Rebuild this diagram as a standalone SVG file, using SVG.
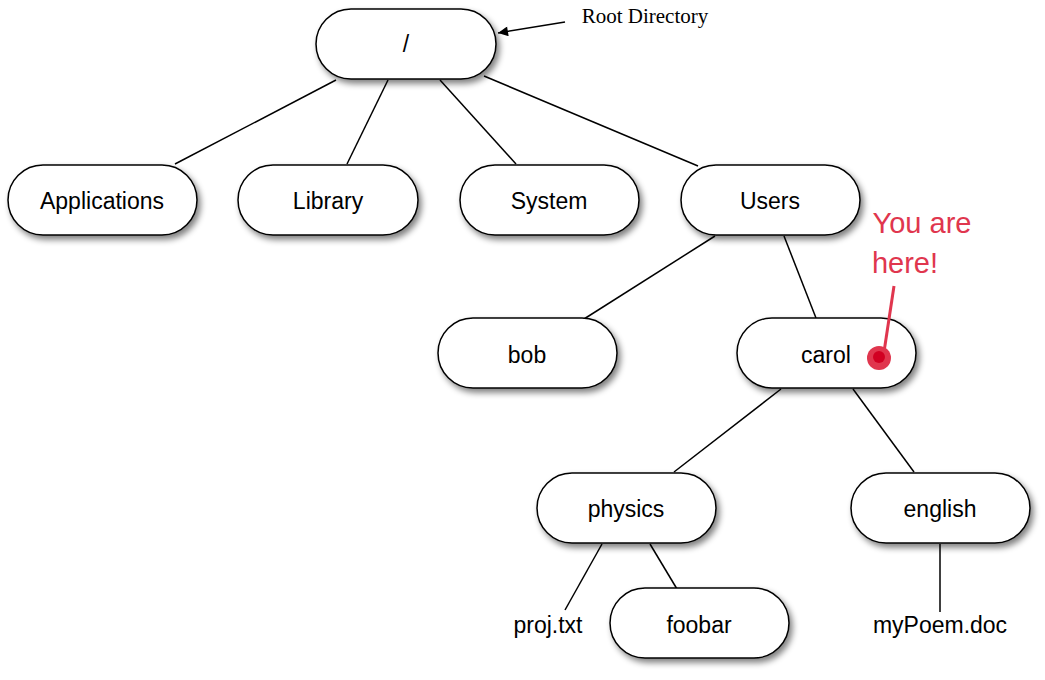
<svg xmlns="http://www.w3.org/2000/svg" width="1045" height="680" viewBox="0 0 1045 680">
<defs>
<filter id="sh" x="-20%" y="-20%" width="150%" height="160%"><feGaussianBlur in="SourceAlpha" stdDeviation="3"/><feOffset dx="3" dy="4"/><feComponentTransfer><feFuncA type="linear" slope="0.5"/></feComponentTransfer><feMerge><feMergeNode/><feMergeNode in="SourceGraphic"/></feMerge></filter>
<marker id="ar" viewBox="0 0 10 10" refX="10" refY="5" markerWidth="12" markerHeight="10" markerUnits="userSpaceOnUse" orient="auto"><path d="M0,0 L10,5 L0,10 z" fill="#000"/></marker>
</defs>
<style>
.n rect{fill:#fff;stroke:#000;stroke-width:1.5;filter:url(#sh)}
text{font-family:"Liberation Sans",Arial,sans-serif;font-size:23px;text-anchor:middle;fill:#000}
.c line{stroke:#000;stroke-width:1.5}
</style>
<rect width="1045" height="680" fill="#fff"/>
<g class="c">
<line x1="336" y1="80" x2="175" y2="164"/>
<line x1="388" y1="80" x2="347" y2="164"/>
<line x1="440" y1="80" x2="516" y2="164"/>
<line x1="484" y1="76" x2="698" y2="166"/>
<line x1="715" y1="236" x2="584" y2="319"/>
<line x1="784" y1="236" x2="816" y2="318"/>
<line x1="781" y1="389" x2="674" y2="472"/>
<line x1="853" y1="389" x2="914" y2="472"/>
<line x1="602" y1="544" x2="565" y2="610"/>
<line x1="650" y1="544" x2="677" y2="589"/>
<line x1="940" y1="544" x2="940" y2="612"/>
<line x1="565" y1="22" x2="498" y2="33" marker-end="url(#ar)"/>
</g>
<g id="root" class="n"><rect x="316" y="9" width="180" height="70" rx="35"/><text x="406" y="52">/</text></g>
<g id="applications" class="n"><rect x="8" y="165" width="189" height="70" rx="35"/><text x="102" y="209">Applications</text></g>
<g id="library" class="n"><rect x="238" y="165" width="180" height="70" rx="35"/><text x="328" y="209">Library</text></g>
<g id="system" class="n"><rect x="460" y="165" width="179" height="70" rx="35"/><text x="549" y="209">System</text></g>
<g id="users" class="n"><rect x="681" y="165" width="179" height="70" rx="35"/><text x="770" y="209">Users</text></g>
<g id="bob" class="n"><rect x="438" y="318" width="179" height="70" rx="35"/><text x="527" y="363">bob</text></g>
<g id="carol" class="n"><rect x="737" y="318" width="179" height="70" rx="35"/><text x="826" y="363">carol</text></g>
<g id="physics" class="n"><rect x="537" y="473" width="179" height="70" rx="35"/><text x="626" y="517">physics</text></g>
<g id="english" class="n"><rect x="851" y="473" width="179" height="70" rx="35"/><text x="940" y="517">english</text></g>
<g id="foobar" class="n"><rect x="610" y="588" width="179" height="70" rx="35"/><text x="699" y="633">foobar</text></g>
<g id="projtxt"><text x="548" y="633">proj.txt</text></g>
<g id="mypoem"><text x="940" y="633">myPoem.doc</text></g>
<g id="rootlabel"><text x="645" y="23" style="font-family:'Liberation Serif',serif;font-size:21px">Root Directory</text></g>
<g id="here">
<line x1="894" y1="286" x2="884" y2="352" stroke="#e0364e" stroke-width="3"/>
<circle cx="879" cy="358" r="12" fill="#e0364e"/><circle cx="879" cy="357" r="6" fill="#d10022"/>
<text x="922" y="233" style="fill:#e0364e;font-size:29px">You are</text>
<text x="905" y="273" style="fill:#e0364e;font-size:29px">here!</text>
</g>
</svg>
